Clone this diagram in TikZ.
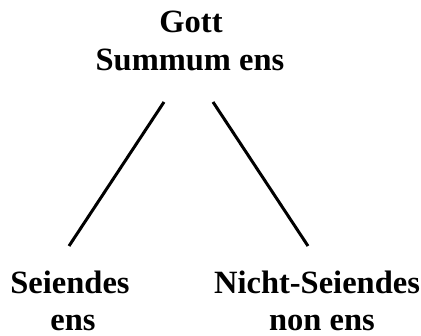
\documentclass[tikz,border=0pt]{standalone}
\usepackage{fontspec}
\setmainfont{Liberation Serif}
\tikzset{
  word/.style={anchor=base, inner sep=0pt, font=\fontsize{32.5}{37}\selectfont\bfseries},
  branch/.style={line width=3pt}
}
\begin{document}
\begin{tikzpicture}[x=1pt,y=-1pt]
\useasboundingbox (0,0) rectangle (421,336);
\node[word] (gott) at (191,33) {Gott};
\node[word] (summum) at (190,71) {Summum ens};
\node[word] (seiendes) at (70,294) {Seiendes};
\node[word] (ens) at (73,331) {ens};
\node[word] (nicht) at (317,294) {Nicht-Seiendes};
\node[word] (nonens) at (322,331) {non ens};

\coordinate (lefttop) at (164,102);
\coordinate (leftbot) at (69,246);
\coordinate (righttop) at (213,102);
\coordinate (rightbot) at (308,246);
\draw[branch] (lefttop) -- (leftbot);
\draw[branch] (righttop) -- (rightbot);
\end{tikzpicture}
\end{document}
